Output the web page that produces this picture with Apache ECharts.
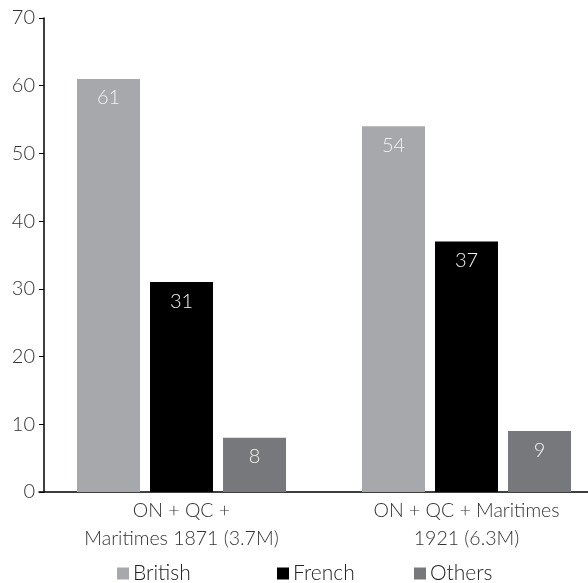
<!DOCTYPE html>
<html>
<head>
<meta charset="utf-8">
<script src="https://cdn.jsdelivr.net/npm/echarts@6/dist/echarts.min.js"></script>
<style>html,body{margin:0;padding:0;background:#fff;}#c{width:588px;height:583px;}</style>
</head>
<body>
<div id="c"></div>
<script>
var categories = ['ON + QC +\nMaritimes 1871 (3.7M)', 'ON + QC + Maritimes\n1921 (6.3M)'];
var seriesNames = ['British', 'French', 'Others'];
var british = [61, 54];
var french = [31, 37];
var others = [8, 9];
var yTicks = [0, 10, 20, 30, 40, 50, 60, 70];

var colors = ['#a7a8ab', '#000000', '#77787b'];
var legendLeft = [117, 277, 414];
var font = 'Lato, "Noto Sans", sans-serif';
var chart = echarts.init(document.getElementById('c'));
function mk(name, data, i) {
  return {
    name: name, type: 'bar', data: data, barWidth: 63, barGap: '15.9%',
    itemStyle: { color: colors[i] },
    label: { show: true, position: 'insideTop', distance: 9, color: '#f2f2f2', fontSize: 20, fontFamily: font, fontWeight: 300 }
  };
}
var legends = seriesNames.map(function (n, i) {
  return {
    top: 563, left: legendLeft[i], itemWidth: 12, itemHeight: 12, itemGap: 0, icon: 'rect', padding: 0,
    textStyle: { fontSize: 21, fontFamily: font, color: '#222', fontWeight: 300, padding: [0, 0, 0, -1] },
    data: [n]
  };
});
chart.setOption({
  animation: false,
  grid: { left: 39, width: 570, top: 18, bottom: 91, containLabel: false, outerBoundsMode: 'none' },
  legend: legends,
  xAxis: {
    type: 'category', data: categories,
    axisLine: { lineStyle: { color: '#000', width: 1.5 } },
    axisTick: { show: false },
    axisLabel: { fontSize: 19.5, lineHeight: 28, color: '#333', fontFamily: font, fontWeight: 300, margin: 5 }
  },
  yAxis: {
    type: 'value', min: yTicks[0], max: yTicks[yTicks.length - 1], interval: 10, offset: -5,
    axisLine: { show: true, lineStyle: { color: '#000', width: 1.5 } },
    axisTick: { show: true, length: 5, lineStyle: { color: '#000' } },
    splitLine: { show: false },
    axisLabel: { fontSize: 20, color: '#333', fontFamily: font, fontWeight: 300, margin: 9 }
  },
  series: [mk(seriesNames[0], british, 0), mk(seriesNames[1], french, 1), mk(seriesNames[2], others, 2)]
});
</script>
</body>
</html>
